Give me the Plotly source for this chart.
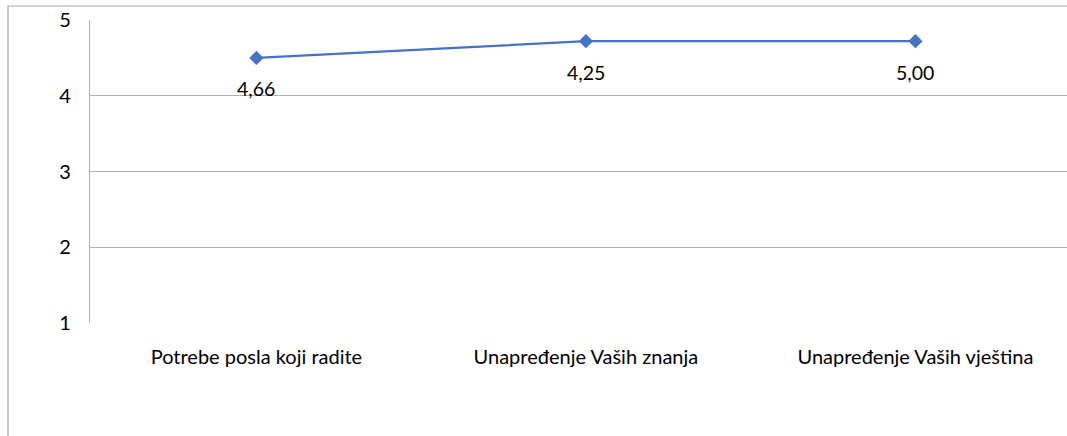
import plotly.graph_objects as go

categories = ["Potrebe posla koji radite", "Unapređenje Vaših znanja", "Unapređenje Vaših vještina"]
values = [4.50, 4.72, 4.72]
labels = ["4,66", "4,25", "5,00"]
y_ticks = [1, 2, 3, 4, 5]

FONT = "Lato"
FS = 20
W, H = 1067, 436
ML, MR, MT, MB = 90, 0, 20, 113
pw = W - ML - MR
ph = H - MT - MB

fig = go.Figure()
fig.add_trace(go.Scatter(
    x=list(range(len(categories))), y=values, mode="lines+markers",
    line=dict(color="#4472C4", width=2.25),
    marker=dict(symbol="diamond", size=11, color="#4472C4"),
    showlegend=False, hoverinfo="skip",
))
for i, (v, t) in enumerate(zip(values, labels)):
    fig.add_annotation(x=i, y=v, text=t, showarrow=False, yshift=-31,
                       font=dict(family=FONT, size=FS - 0.5, color="#000000"))

fig.add_shape(type="rect", xref="paper", yref="paper",
              x0=(8 - ML) / pw, x1=1.05, y0=-0.6, y1=1 + (MT - 6) / ph,
              line=dict(color="#A6A6A6", width=1.2), layer="below")

fig.update_layout(
    width=W, height=H, margin=dict(l=ML, r=MR, t=MT, b=MB),
    paper_bgcolor="white", plot_bgcolor="white",
    font=dict(family=FONT, size=FS, color="#000000"),
    xaxis=dict(range=[-0.505, 2.46], tickmode="array",
               tickvals=list(range(len(categories))), ticktext=categories,
               showgrid=False, zeroline=False, showline=False, ticks="",
               ticklabelstandoff=20),
    yaxis=dict(range=[1, 5], tickmode="array", tickvals=y_ticks,
               ticktext=[str(v) for v in y_ticks],
               showgrid=True, gridcolor="#B0B0B0", gridwidth=1.2,
               zeroline=False, showline=True, linecolor="#B0B0B0", linewidth=1.2,
               ticks="", ticklabelstandoff=14),
)
fig.write_html("out.html", config={"displayModeBar": False},
               post_script="document.body.style.margin='0';document.body.style.overflow='hidden';document.documentElement.style.overflow='hidden';")
